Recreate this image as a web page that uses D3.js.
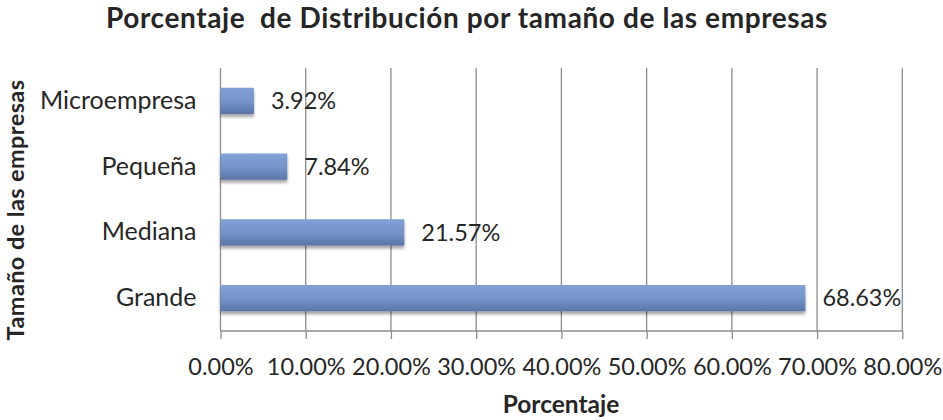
<!DOCTYPE html>
<html>
<head>
<meta charset="utf-8">
<script src="https://cdn.jsdelivr.net/npm/d3@7"></script>
<style>
  body { margin: 0; background: #fff; }
  text { font-family: Lato, "Open Sans", sans-serif; fill: #262626; }
</style>
</head>
<body>
<div id="chart"></div>
<script>
// data
var categories = ["Microempresa", "Pequeña", "Mediana", "Grande"];
var values = [0.0392, 0.0784, 0.2157, 0.6863];
var tickValues = [0, 0.1, 0.2, 0.3, 0.4, 0.5, 0.6, 0.7, 0.8];
var chartTitle = "Porcentaje  de Distribución por tamaño de las empresas";
var xTitle = "Porcentaje";
var yTitle = "Tamaño de las empresas";

var svgWidth = 943;
var svgHeight = 420;

var plot = { left: 220.5, right: 902.3, top: 68, bottom: 331 };

var svg = d3.select("#chart")
  .append("svg")
  .attr("width", svgWidth)
  .attr("height", svgHeight);

var defs = svg.append("defs");

var grad = defs.append("linearGradient")
  .attr("id", "barGrad")
  .attr("x1", 0).attr("y1", 0)
  .attr("x2", 0).attr("y2", 1);
grad.append("stop").attr("offset", "0%").attr("stop-color", "#82a2d6");
grad.append("stop").attr("offset", "55%").attr("stop-color", "#7392c8");
grad.append("stop").attr("offset", "100%").attr("stop-color", "#5a74a5");

var shadow = defs.append("filter")
  .attr("id", "shadow")
  .attr("x", "-5%").attr("y", "-20%")
  .attr("width", "110%").attr("height", "160%");
shadow.append("feDropShadow")
  .attr("dx", 0).attr("dy", 3)
  .attr("stdDeviation", 1.8)
  .attr("flood-color", "#000")
  .attr("flood-opacity", 0.35);

// scales
var xScale = d3.scaleLinear()
  .domain([0, 0.8])
  .range([plot.left, plot.right]);

var yScale = d3.scaleBand()
  .domain(categories)
  .range([plot.top, plot.bottom])
  .paddingInner(0.6)
  .paddingOuter(0.3);

// gridlines
svg.append("g")
  .selectAll("line")
  .data(tickValues)
  .enter()
  .append("line")
  .attr("x1", d => xScale(d))
  .attr("x2", d => xScale(d))
  .attr("y1", plot.top)
  .attr("y2", plot.bottom)
  .attr("stroke", "#8c8c8c")
  .attr("stroke-width", 1.3);

// x axis
var bottomAxis = d3.axisBottom(xScale)
  .tickValues(tickValues)
  .tickFormat(d3.format(".2%"))
  .tickSize(8)
  .tickPadding(19);

var xAxisG = svg.append("g")
  .attr("transform", `translate(0, ${plot.bottom})`)
  .call(bottomAxis);
xAxisG.select(".domain")
  .attr("stroke", "#8c8c8c")
  .attr("stroke-width", 1.3)
  .attr("d", `M${plot.left},0H${plot.right}`);
xAxisG.selectAll(".tick line")
  .attr("stroke", "#8c8c8c")
  .attr("stroke-width", 1.3);
xAxisG.selectAll(".tick text")
  .attr("font-size", 23.5)
  .attr("fill", "#262626");

// y category labels
var leftAxis = d3.axisLeft(yScale)
  .tickSize(0)
  .tickPadding(24);
var yAxisG = svg.append("g")
  .attr("transform", `translate(${plot.left}, 0)`)
  .call(leftAxis);
yAxisG.select(".domain").remove();
yAxisG.selectAll(".tick text")
  .attr("font-size", 25)
  .attr("fill", "#262626");

// bars
svg.append("g")
  .selectAll("rect")
  .data(values)
  .enter()
  .append("rect")
  .attr("x", xScale(0))
  .attr("y", (d, i) => yScale(categories[i]))
  .attr("width", d => xScale(d) - xScale(0))
  .attr("height", yScale.bandwidth())
  .attr("fill", "url(#barGrad)")
  .attr("filter", "url(#shadow)");

// data labels
svg.append("g")
  .selectAll("text")
  .data(values)
  .enter()
  .append("text")
  .attr("x", d => xScale(d) + 17)
  .attr("y", (d, i) => yScale(categories[i]) + yScale.bandwidth() / 2)
  .attr("dy", "0.35em")
  .attr("font-size", 23.5)
  .text(d => d3.format(".2%")(d));

// titles
svg.append("text")
  .attr("x", 467)
  .attr("y", 28)
  .attr("text-anchor", "middle")
  .attr("font-size", 28)
  .attr("font-weight", "bold")
  .attr("letter-spacing", 0.6)
  .style("white-space", "pre")
  .text(chartTitle);

svg.append("text")
  .attr("x", 561)
  .attr("y", 413)
  .attr("text-anchor", "middle")
  .attr("font-size", 24.5)
  .attr("font-weight", "bold")
  .text(xTitle);

svg.append("text")
  .attr("transform", "translate(24, 210) rotate(-90)")
  .attr("text-anchor", "middle")
  .attr("font-size", 23.5)
  .attr("font-weight", "bold")
  .attr("letter-spacing", 0.4)
  .text(yTitle);
</script>
</body>
</html>
